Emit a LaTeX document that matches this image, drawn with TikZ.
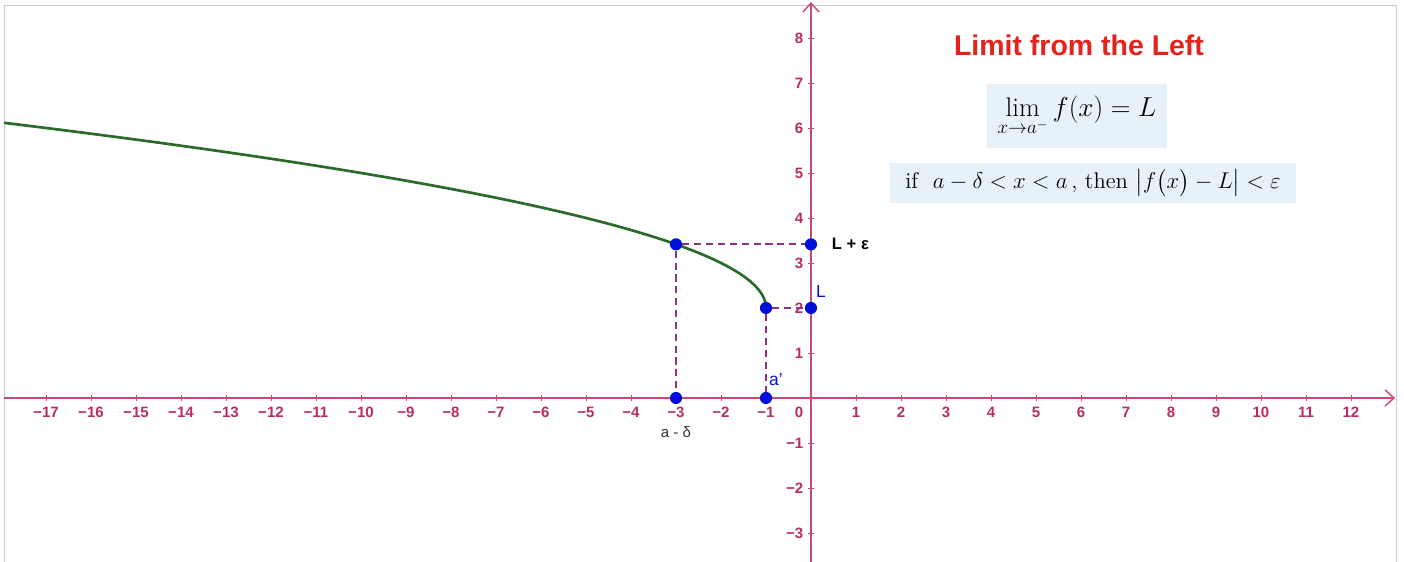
\documentclass[tikz,border=0pt]{standalone}
\usepackage{fontspec}
\setsansfont{Liberation Sans}
\usepackage{amsmath,amssymb}
\usetikzlibrary{positioning,arrows.meta}
\definecolor{AxisRed}{HTML}{C94A76}
\definecolor{TickRed}{HTML}{B82C62}
\definecolor{PtBlue}{HTML}{0010D8}
\definecolor{GuidePurple}{HTML}{8A3284}
\definecolor{CurveGreen}{HTML}{2C6A2C}
\definecolor{TitleRed}{HTML}{E3231C}
\definecolor{BoxBlue}{HTML}{E7F1FA}
\definecolor{FrameGray}{HTML}{C8C8D0}
\tikzset{
  axisline/.style={draw=AxisRed, line width=0.9pt, -{Straight Barb[length=2mm,width=3.6mm]}},
  tickmark/.style={draw=AxisRed, line width=0.6pt},
  ticklbl/.style={text=TickRed, inner sep=0.5pt, font=\sffamily\bfseries\fontsize{9.5}{11}\selectfont},
  dot/.style={circle, fill=PtBlue, inner sep=0pt, minimum size=2.7mm},
  guide/.style={draw=GuidePurple, line width=1.35pt, dash pattern=on 4.5pt off 3pt},
  curve/.style={draw=CurveGreen, line width=1.7pt},
  formbox/.style={fill=BoxBlue, inner sep=0pt, align=center},
}

\begin{document}
\begin{tikzpicture}[x=1cm, y=1cm]
  \useasboundingbox (-18.022,-3.644) rectangle (13.178,8.844);
  % frame of the graphics view
  \draw[FrameGray, line width=0.6pt] (-17.93,-3.644) -- (-17.93,8.733) -- (13.0,8.733) -- (13.0,-3.644);

  % axes
  \coordinate (xl) at (-17.93,0);
  \coordinate (xr) at (12.98,0);
  \coordinate (yb) at (0,-3.644);
  \coordinate (yt) at (0,8.8);
  \draw[axisline] (xl) -- (xr);
  \draw[axisline] (yb) -- (yt);
  \foreach \i in {-17,...,-1,1,2,...,12} {
    \pgfmathtruncatemacro\a{abs(\i)}
    \draw[tickmark] (\i,0.06) -- (\i,-0.06);
    \node[ticklbl, anchor=north] at (\i,-0.17) {\ifnum\i<0 −\fi\a};
  }
  \foreach \j in {-3,-2,-1,1,2,...,8} {
    \pgfmathtruncatemacro\a{abs(\j)}
    \draw[tickmark] (-0.06,\j) -- (0.06,\j);
    \node[ticklbl, anchor=east] at (-0.15,\j) {\ifnum\j<0 −\fi\a};
  }
  \node[ticklbl, anchor=north east] at (-0.15,-0.17) {0};

  % f(x) = 2 + sqrt(-1 - x)
  \draw[curve] plot[domain=0:4.115, samples=120, smooth] ({-1-\x*\x},{2+\x});

  % points
  \node[dot] (pa) at (-3,3.414) {};
  \node[dot] (pe) at (0,3.414) {};
  \node[dot] (pc) at (-1,2) {};
  \node[dot] (pl) at (0,2) {};
  \node[dot] (xd) at (-3,0) {};
  \node[dot] (xa) at (-1,0) {};
  \draw[guide] (pa) -- (pe);
  \draw[guide] (pa) -- (xd);
  \draw[guide] (pc) -- (pl);
  \draw[guide] (pc) -- (xa);

  % labels
  \node[right=0.2cm of pe, font=\sffamily\bfseries\fontsize{10.5}{12}\selectfont] (le) {L + ε};
  \node[text=PtBlue, font=\sffamily\fontsize{11}{13}\selectfont] (ll) at (0.22,2.36) {L};
  \node[text=PtBlue, font=\sffamily\fontsize{11}{13}\selectfont] (la) at (-0.78,0.4) {a'};
  \node[text=black!80, font=\sffamily\fontsize{9.5}{11}\selectfont] (ld) at (-3,-0.76) {a - δ};

  % title and definition
  \node[text=TitleRed, font=\sffamily\bfseries\fontsize{18}{21}\selectfont] (title) at (5.956,7.844) {Limit from the Left};
  \node[formbox, minimum width=4cm, minimum height=1.42cm, font=\fontsize{17}{20}\selectfont] (lim) at (5.911,6.267)
    {$\displaystyle\lim_{x\to a^-} f(x) = L$};
  \node[formbox, minimum width=9.02cm, minimum height=0.89cm, font=\fontsize{14.3}{17}\selectfont] (cond) at (6.267,4.778)
    {if\ \ $a-\delta<x<a$\,, then $\bigl|f\bigl(x\bigr)-L\bigr|<\varepsilon$};
\end{tikzpicture}
\end{document}
